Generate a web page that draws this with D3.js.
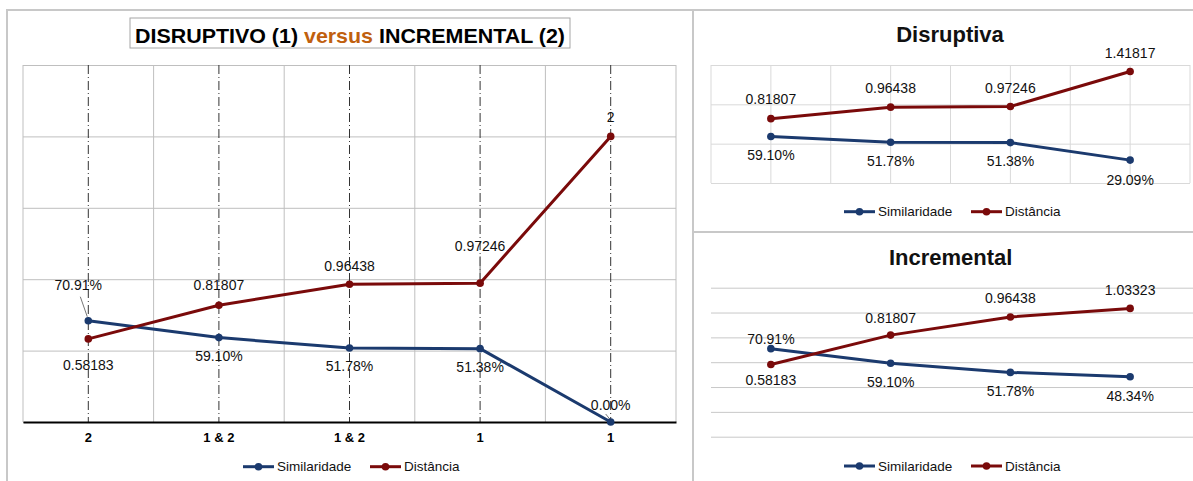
<!DOCTYPE html>
<html>
<head>
<meta charset="utf-8">
<script src="https://cdn.jsdelivr.net/npm/d3@7"></script>
<style>
  body { margin: 0; background: #fff; }
  svg text { font-family: "Liberation Sans", Arial, sans-serif; }
</style>
</head>
<body>
<svg id="chart" width="1193" height="481"></svg>
<script>
// main chart: DISRUPTIVO (1) versus INCREMENTAL (2)
const mainCats = ['2', '1 & 2', '1 & 2', '1', '1'];
const mainSimilaridade = [0.7091, 0.5910, 0.5178, 0.5138, 0.0];
const mainDistancia = [0.58183, 0.81807, 0.96438, 0.97246, 2];

// small chart: Disruptiva
const disSimilaridade = [0.5910, 0.5178, 0.5138, 0.2909];
const disDistancia = [0.81807, 0.96438, 0.97246, 1.41817];

// small chart: Incremental
const incSimilaridade = [0.7091, 0.5910, 0.5178, 0.4834];
const incDistancia = [0.58183, 0.81807, 0.96438, 1.03323];

const seriesNames = ['Similaridade', 'Distância'];

// colours
const cBlue = '#1b3a6e';
const cRed = '#7a0a0a';

// label placement (dx, dy from the point)
const offMainSim = [[-10, -36], [0, 18], [0, 18], [0, 18], [0, -17]];
const offMainDist = [[0, 26], [0, -20], [0, -18], [0, -37], [0, -19]];
const offDisSim = [[0, 19], [0, 19], [0, 19], [0, 20]];
const offDisDist = [[0, -20], [0, -19], [0, -18], [0, -18]];
const offIncSim = [[0, -10], [0, 19], [0, 19], [0, 19]];
const offIncDist = [[0, 16], [0, -17], [0, -19], [0, -18]];

const fmtPct = d3.format('.2%');
const fmtDist = d => Number.isInteger(d) ? String(d) : d.toFixed(5);

const svg = d3.select('#chart');

// panel frames
const frames = [[7, 10, 686, 490], [693, 10, 520, 222], [693, 232, 520, 280]];
svg.selectAll('rect.frame').data(frames).join('rect')
    .attr('class', 'frame')
    .attr('x', d => d[0]).attr('y', d => d[1])
    .attr('width', d => d[2]).attr('height', d => d[3])
    .attr('fill', 'none').attr('stroke', '#c8c8c8').attr('stroke-width', 2);

const drawSeries = (g, x, y, values, color, fmt, offs) => {
    const cx = i => x(i) + x.bandwidth() / 2;
    g.append('path').datum(values)
        .attr('d', d3.line().x((d, i) => cx(i)).y(d => y(d)))
        .attr('fill', 'none')
        .attr('stroke', color)
        .attr('stroke-width', 3)
        .attr('stroke-linejoin', 'round');
    g.selectAll(null).data(values).join('circle')
        .attr('cx', (d, i) => cx(i))
        .attr('cy', d => y(d))
        .attr('r', 3.8)
        .attr('fill', color);
    g.selectAll(null).data(values).join('text')
        .attr('x', (d, i) => cx(i) + offs[i][0])
        .attr('y', (d, i) => y(d) + offs[i][1])
        .attr('dy', '0.35em')
        .attr('text-anchor', 'middle')
        .attr('font-size', 14)
        .attr('fill', '#111')
        .text(fmt);
};

const drawLegend = (g, x0, y0) => {
    const items = g.selectAll(null).data(seriesNames).join('g')
        .attr('transform', (d, i) => `translate(${x0 + i * 127},${y0})`);
    items.append('line')
        .attr('x1', 0).attr('x2', 31)
        .attr('stroke', (d, i) => i ? cRed : cBlue)
        .attr('stroke-width', 3);
    items.append('circle')
        .attr('cx', 15.5).attr('r', 3.8)
        .attr('fill', (d, i) => i ? cRed : cBlue);
    items.append('text')
        .attr('x', 34).attr('dy', '0.35em')
        .attr('font-size', 13.5)
        .attr('fill', '#111')
        .text(d => d);
};

// ---------- main chart ----------
const gMain = svg.append('g');

const title = gMain.append('g');
title.append('rect')
    .attr('x', 130).attr('y', 18).attr('width', 440).attr('height', 30)
    .attr('fill', '#fff').attr('stroke', '#a6a6a6');
const tt = title.append('text')
    .attr('x', 350).attr('y', 42.5)
    .attr('text-anchor', 'middle')
    .attr('font-size', 21).attr('font-weight', 'bold')
    .attr('textLength', 430).attr('lengthAdjust', 'spacingAndGlyphs')
    .style('font-family', '"Liberation Sans Narrow", "Arial Narrow", "Liberation Sans", sans-serif');
tt.append('tspan').attr('fill', '#000').text('DISRUPTIVO (1) ');
tt.append('tspan').attr('fill', '#c0600e').text('versus');
tt.append('tspan').attr('fill', '#000').text(' INCREMENTAL (2)');

const mx = d3.scaleBand().domain(d3.range(mainCats.length)).range([23, 676]);
const my = d3.scaleLinear().domain([0, 2.5]).range([422, 65]);

gMain.append('g')
    .attr('transform', 'translate(23,0)')
    .call(d3.axisLeft(my).tickValues(d3.range(0, 2.51, 0.5)).tickSize(-653).tickFormat(''))
    .call(g => g.select('.domain').remove())
    .call(g => g.selectAll('line').attr('stroke', '#bfbfbf'));

const edges = mx.domain().map(i => mx(i)).concat([mx.range()[1]]);
gMain.selectAll(null).data(edges).join('line')
    .attr('x1', d => d).attr('x2', d => d)
    .attr('y1', my(2.5)).attr('y2', my(0))
    .attr('stroke', '#bfbfbf');

gMain.selectAll(null).data(mx.domain()).join('line')
    .attr('x1', i => mx(i) + mx.bandwidth() / 2)
    .attr('x2', i => mx(i) + mx.bandwidth() / 2)
    .attr('y1', my(2.5)).attr('y2', my(0))
    .attr('stroke', '#333')
    .attr('stroke-dasharray', '9,3,1,3');

gMain.append('g')
    .attr('transform', `translate(0,${my(0)})`)
    .call(d3.axisBottom(mx).tickSize(0).tickPadding(11).tickFormat(i => mainCats[i]))
    .call(g => g.select('.domain').attr('stroke', '#000').attr('stroke-width', 2))
    .call(g => g.selectAll('text')
        .attr('font-size', 13).attr('font-weight', 'bold').attr('fill', '#000')
        .style('font-family', '"Liberation Sans", Arial, sans-serif'));

// leader lines
const mcx = i => mx(i) + mx.bandwidth() / 2;
const leaders = [
    [mcx(0) - 8, my(mainSimilaridade[0]) - 24, mcx(0) - 1, my(mainSimilaridade[0]) - 4],
    [mcx(3), my(mainDistancia[3]) - 27, mcx(3), my(mainDistancia[3]) - 4],
    [mcx(4) - 5, my(0) - 8, mcx(4) - 1, my(0) - 3]
];
gMain.selectAll(null).data(leaders).join('line')
    .attr('x1', d => d[0]).attr('y1', d => d[1])
    .attr('x2', d => d[2]).attr('y2', d => d[3])
    .attr('stroke', '#777');

drawSeries(gMain, mx, my, mainSimilaridade, cBlue, fmtPct, offMainSim);
drawSeries(gMain, mx, my, mainDistancia, cRed, fmtDist, offMainDist);
drawLegend(gMain, 243, 466.7);

// ---------- Disruptiva ----------
const gDis = svg.append('g');
gDis.append('text')
    .attr('x', 950).attr('y', 41.7)
    .attr('text-anchor', 'middle')
    .attr('font-size', 22).attr('font-weight', 'bold')
    .attr('fill', '#111')
    .text('Disruptiva');

const sx = d3.scaleBand().domain(d3.range(disDistancia.length)).range([711, 1190]);
const dy = d3.scaleLinear().domain([0, 1.5]).range([183, 65]);

gDis.append('g')
    .attr('transform', 'translate(711,0)')
    .call(d3.axisLeft(dy).tickValues(d3.range(0, 1.51, 0.5)).tickSize(-479).tickFormat(''))
    .call(g => g.select('.domain').remove())
    .call(g => g.selectAll('line').attr('stroke', '#d9d9d9'));

const halfSteps = [];
sx.domain().forEach(i => { halfSteps.push(sx(i), sx(i) + sx.bandwidth() / 2); });
halfSteps.push(sx.range()[1]);
gDis.selectAll(null).data(halfSteps).join('line')
    .attr('x1', d => d).attr('x2', d => d)
    .attr('y1', dy(1.5)).attr('y2', dy(0))
    .attr('stroke', '#d9d9d9');

drawSeries(gDis, sx, dy, disSimilaridade, cBlue, fmtPct, offDisSim);
drawSeries(gDis, sx, dy, disDistancia, cRed, fmtDist, offDisDist);
drawLegend(gDis, 844, 211.7);

// ---------- Incremental ----------
const gInc = svg.append('g');
gInc.append('text')
    .attr('x', 950.7).attr('y', 264.5)
    .attr('text-anchor', 'middle')
    .attr('font-size', 22).attr('font-weight', 'bold')
    .attr('fill', '#111')
    .text('Incremental');

const iy = d3.scaleLinear().domain([0, 1.2]).range([436.7, 287.7]);

gInc.append('g')
    .attr('transform', 'translate(711,0)')
    .call(d3.axisLeft(iy).tickValues(d3.range(0, 1.21, 0.2)).tickSize(-482).tickFormat(''))
    .call(g => g.select('.domain').remove())
    .call(g => g.selectAll('line').attr('stroke', '#c8c8c8'));

drawSeries(gInc, sx, iy, incSimilaridade, cBlue, fmtPct, offIncSim);
drawSeries(gInc, sx, iy, incDistancia, cRed, fmtDist, offIncDist);
drawLegend(gInc, 844, 466);
</script>
</body>
</html>
